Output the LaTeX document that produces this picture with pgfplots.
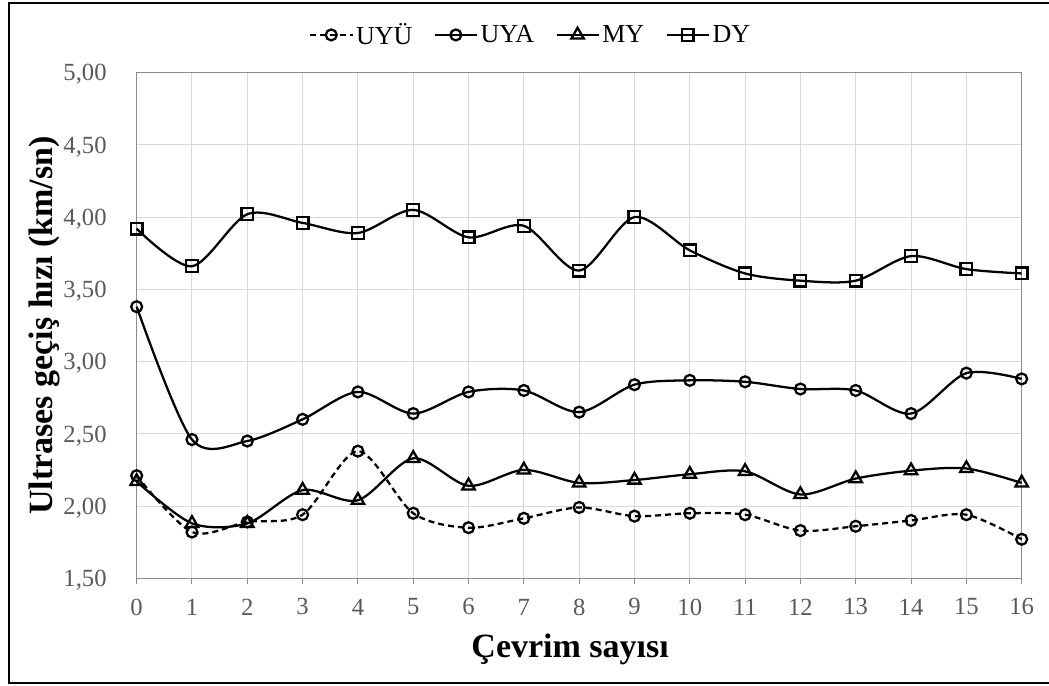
\documentclass[border=0pt]{standalone}
\usepackage{fontspec}
\setmainfont{Liberation Serif}
\usepackage{pgfplots}
\pgfplotsset{compat=1.18}
\definecolor{tickgray}{RGB}{89,89,89}
\definecolor{gridgray}{RGB}{217,217,217}
\definecolor{axisgray}{RGB}{140,140,140}

\begin{document}
\begin{tikzpicture}
\begin{axis}[
  scale only axis,
  width=663.75pt, height=379.2pt,
  xmin=0, xmax=16, ymin=1.5, ymax=5,
  xtick={0,1,...,16},
  ytick={1.5,2,2.5,3,3.5,4,4.5,5},
  xtick pos=left,
  ytick pos=left,
  clip=false,
  axis line style={draw=axisgray, line width=0.75pt},
  grid=major,
  major grid style={draw=gridgray, line width=0.75pt},
  tick align=outside,
  major tick length=4.5pt,
  xtick style={draw=axisgray, line width=0.75pt},
  ytick style={draw=none},
  /pgf/number format/assume math mode=true,
  xticklabel style={font=\fontsize{18.5}{22}\selectfont, text=tickgray, inner sep=0pt, anchor=center, yshift=-17pt},
  yticklabel style={font=\fontsize{18.5}{22}\selectfont, text=tickgray, inner sep=0pt, anchor=base east, xshift=-17.8pt, yshift=-6.2pt,
    /pgf/number format/.cd, fixed, fixed zerofill, precision=2, use comma},
  xlabel={Çevrim sayısı},
  ylabel={Ultrases geçiş hızı (km/sn)},
  every axis x label/.style={at={(axis description cs:0.4898,-0.1577)}, anchor=base, font=\fontsize{25.5}{30}\selectfont\bfseries},
  every axis y label/.style={at={(axis description cs:-0.0946,0.5)}, rotate=90, anchor=base, font=\fontsize{25.5}{30}\selectfont\bfseries},
  legend columns=4,
  legend style={draw=none, fill=none, at={(axis description cs:0.4455,1.0746)}, anchor=center,
    font=\fontsize{19.5}{22}\selectfont, inner sep=0pt,
    /tikz/every even column/.append style={column sep=14pt}},
  legend image code/.code={\draw[mark repeat=2,mark phase=2,#1] plot coordinates {(0pt,0pt) (15.75pt,0pt) (31.5pt,0pt)};},
  every axis plot/.append style={black, line width=1.7pt, smooth, tension=0.5},
]
% UYU
\addplot[dash pattern=on 4.5pt off 3pt, mark=o, mark size=4.1pt, mark options={solid, fill=none, line width=1.7pt}] coordinates {
(0,2.21) (1,1.82) (2,1.89) (3,1.94) (4,2.38) (5,1.95) (6,1.85) (7,1.915) (8,1.99)
(9,1.93) (10,1.95) (11,1.94) (12,1.83) (13,1.86) (14,1.90) (15,1.94) (16,1.77)};
\addlegendentry{UYÜ}
% UYA
\addplot[mark=o, mark size=4.1pt, mark options={solid, fill=none, line width=1.7pt}] coordinates {
(0,3.38) (1,2.46) (2,2.45) (3,2.60) (4,2.79) (5,2.64) (6,2.79) (7,2.80) (8,2.65)
(9,2.84) (10,2.87) (11,2.86) (12,2.81) (13,2.80) (14,2.64) (15,2.92) (16,2.88)};
\addlegendentry{UYA}
% MY
\addplot[mark=triangle, mark size=5.4pt, mark options={solid, fill=none, line width=1.7pt}] coordinates {
(0,2.17) (1,1.88) (2,1.88) (3,2.11) (4,2.04) (5,2.33) (6,2.14) (7,2.25) (8,2.16)
(9,2.18) (10,2.22) (11,2.24) (12,2.08) (13,2.19) (14,2.245) (15,2.26) (16,2.16)};
\addlegendentry{MY}
% DY
\addplot[mark=square, mark size=4.4pt, mark options={solid, fill=none, line width=1.7pt}] coordinates {
(0,3.92) (1,3.66) (2,4.02) (3,3.96) (4,3.89) (5,4.05) (6,3.86) (7,3.94) (8,3.63)
(9,4.00) (10,3.77) (11,3.61) (12,3.56) (13,3.56) (14,3.73) (15,3.64) (16,3.61)};
\addlegendentry{DY}
\end{axis}
\draw[line width=1.5pt, black]
  ([shift={(40pt,52pt)}]current axis.north east) --
  ([shift={(-95.8pt,52pt)}]current axis.north west) --
  ([shift={(-95.8pt,-78.5pt)}]current axis.south west) --
  ([shift={(40pt,-78.5pt)}]current axis.south east);
\pgfresetboundingbox
\useasboundingbox ([shift={(-102.5pt,-80.8pt)}]current axis.south west) rectangle ([shift={(20.5pt,54.5pt)}]current axis.north east);
\end{tikzpicture}
\end{document}
